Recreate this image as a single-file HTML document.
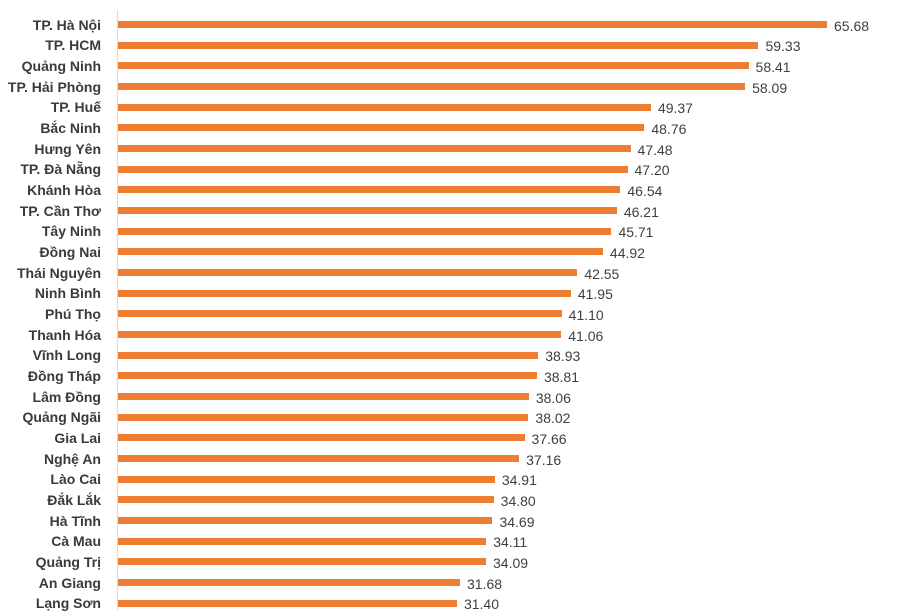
<!DOCTYPE html>
<html><head><meta charset="utf-8"><style>
body{margin:0;background:#fff;width:900px;height:600px;overflow:hidden;position:relative;font-family:"Liberation Sans",sans-serif}
.l{position:absolute;right:799px;font-weight:bold;font-size:14px;color:#3a3a3a;white-space:nowrap;line-height:16px}
.b{position:absolute;left:118px;height:7px;background:#ed7d31}
.v{position:absolute;font-size:14px;color:#404040;line-height:16px}
.ax{position:absolute;left:117px;top:10px;width:1px;height:600px;background:#d9d9d9}
</style></head><body><div class="ax"></div>
<script>
var d=[["TP. Hà Nội",65.68],["TP. HCM",59.33],["Quảng Ninh",58.41],["TP. Hải Phòng",58.09],["TP. Huế",49.37],["Bắc Ninh",48.76],["Hưng Yên",47.48],["TP. Đà Nẵng",47.20],["Khánh Hòa",46.54],["TP. Cần Thơ",46.21],["Tây Ninh",45.71],["Đồng Nai",44.92],["Thái Nguyên",42.55],["Ninh Bình",41.95],["Phú Thọ",41.10],["Thanh Hóa",41.06],["Vĩnh Long",38.93],["Đồng Tháp",38.81],["Lâm Đồng",38.06],["Quảng Ngãi",38.02],["Gia Lai",37.66],["Nghệ An",37.16],["Lào Cai",34.91],["Đắk Lắk",34.80],["Hà Tĩnh",34.69],["Cà Mau",34.11],["Quảng Trị",34.09],["An Giang",31.68],["Lạng Sơn",31.40]];
var h="";d.forEach(function(r,i){var c=24.5+i*20.67,w=r[1]*10.795;
h+='<div class="l" style="top:'+(c-8)+'px">'+r[0]+'</div><div class="b" style="top:'+(c-3.5)+'px;width:'+w+'px"></div><div class="v" style="top:'+(c-7)+'px;left:'+(118+w+7)+'px">'+r[1].toFixed(2)+'</div>';});
document.write(h);
</script></body></html>
